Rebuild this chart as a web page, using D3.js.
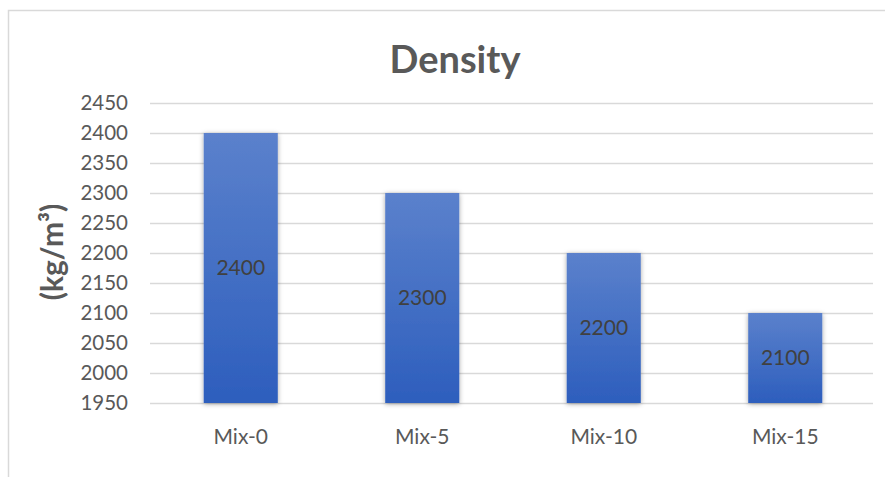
<!DOCTYPE html>
<html>
<head>
<meta charset="utf-8">
<script src="https://cdn.jsdelivr.net/npm/d3@7"></script>
<style>
  html, body { margin: 0; padding: 0; background: #fff; }
  svg { display: block; font-family: Lato, "Open Sans", sans-serif; }
</style>
</head>
<body>
<svg id="chart" width="885" height="477"></svg>
<script>
// Density per mix
const categories = ["Mix-0", "Mix-5", "Mix-10", "Mix-15"];
const densities = [2400, 2300, 2200, 2100];
const yTicks = [1950, 2000, 2050, 2100, 2150, 2200, 2250, 2300, 2350, 2400, 2450];
const titleText = "Density";
const yLabelText = "(kg/m³)";

const svg = d3.select("#chart");
const plot = { left: 150, right: 876, top: 103, bottom: 403 };

// Chart frame
svg.append("rect")
  .attr("x", 8.5).attr("y", 10.5)
  .attr("width", 900).attr("height", 500)
  .attr("fill", "#fff").attr("stroke", "#d9d9d9").attr("stroke-width", 1.5);

const defs = svg.append("defs");
const grad = defs.append("linearGradient")
  .attr("id", "barGrad").attr("x1", 0).attr("y1", 0).attr("x2", 0).attr("y2", 1);
grad.append("stop").attr("offset", "0%").attr("stop-color", "#5b81cc");
grad.append("stop").attr("offset", "100%").attr("stop-color", "#2d5ebd");

const shadow = defs.append("filter").attr("id", "barShadow")
  .attr("x", "-20%").attr("y", "-10%").attr("width", "140%").attr("height", "120%");
shadow.append("feDropShadow")
  .attr("dx", 0).attr("dy", 1).attr("stdDeviation", 2.5)
  .attr("flood-color", "#000").attr("flood-opacity", 0.35);

const x = d3.scaleBand()
  .domain(categories)
  .range([plot.left, plot.right])
  .paddingInner(0.592)
  .paddingOuter(0.296);

const y = d3.scaleLinear()
  .domain([1950, 2450])
  .range([plot.bottom, plot.top]);

// Gridlines
svg.append("g")
  .selectAll("line")
  .data(yTicks)
  .join("line")
  .attr("x1", plot.left).attr("x2", 873)
  .attr("y1", d => Math.round(y(d)) + 0.5)
  .attr("y2", d => Math.round(y(d)) + 0.5)
  .attr("stroke", "#d9d9d9").attr("stroke-width", 1.3);

// Y axis labels
const yAxis = d3.axisLeft(y).tickValues(yTicks).tickSize(0).tickPadding(0).tickFormat(d3.format("d"));
const yg = svg.append("g").attr("transform", `translate(128,0)`).call(yAxis);
yg.select(".domain").remove();
yg.selectAll("text")
  .attr("fill", "#595959").attr("font-size", 20.5)
  .attr("font-family", "Lato, 'Open Sans', sans-serif");

// Bars
svg.append("g")
  .selectAll("rect")
  .data(densities)
  .join("rect")
  .attr("x", (d, i) => x(categories[i]))
  .attr("y", d => y(d))
  .attr("width", x.bandwidth())
  .attr("height", d => y(1950) - y(d))
  .attr("fill", "url(#barGrad)")
  .attr("filter", "url(#barShadow)");

// Value labels inside bars
svg.append("g")
  .selectAll("text")
  .data(densities)
  .join("text")
  .attr("x", (d, i) => x(categories[i]) + x.bandwidth() / 2)
  .attr("y", d => (y(d) + y(1950)) / 2)
  .attr("dy", "0.35em")
  .attr("text-anchor", "middle")
  .attr("fill", "#404040")
  .attr("font-size", 21)
  .text(d => d);

// Category labels
const xAxis = d3.axisBottom(x).tickSize(0).tickPadding(0);
const xg = svg.append("g").attr("transform", `translate(0,${plot.bottom + 26})`).call(xAxis);
xg.select(".domain").remove();
xg.selectAll("text")
  .attr("fill", "#595959").attr("font-size", 21)
  .attr("font-family", "Lato, 'Open Sans', sans-serif");

// Title
svg.append("text")
  .attr("x", 455).attr("y", 73)
  .attr("text-anchor", "middle")
  .attr("fill", "#595959")
  .attr("font-size", 38).attr("font-weight", "bold")
  .text(titleText);

// Y axis title
svg.append("text")
  .attr("transform", "translate(63,252) rotate(-90)")
  .attr("text-anchor", "middle")
  .attr("fill", "#595959")
  .attr("font-size", 30).attr("font-weight", "bold")
  .text(yLabelText);
</script>
</body>
</html>
